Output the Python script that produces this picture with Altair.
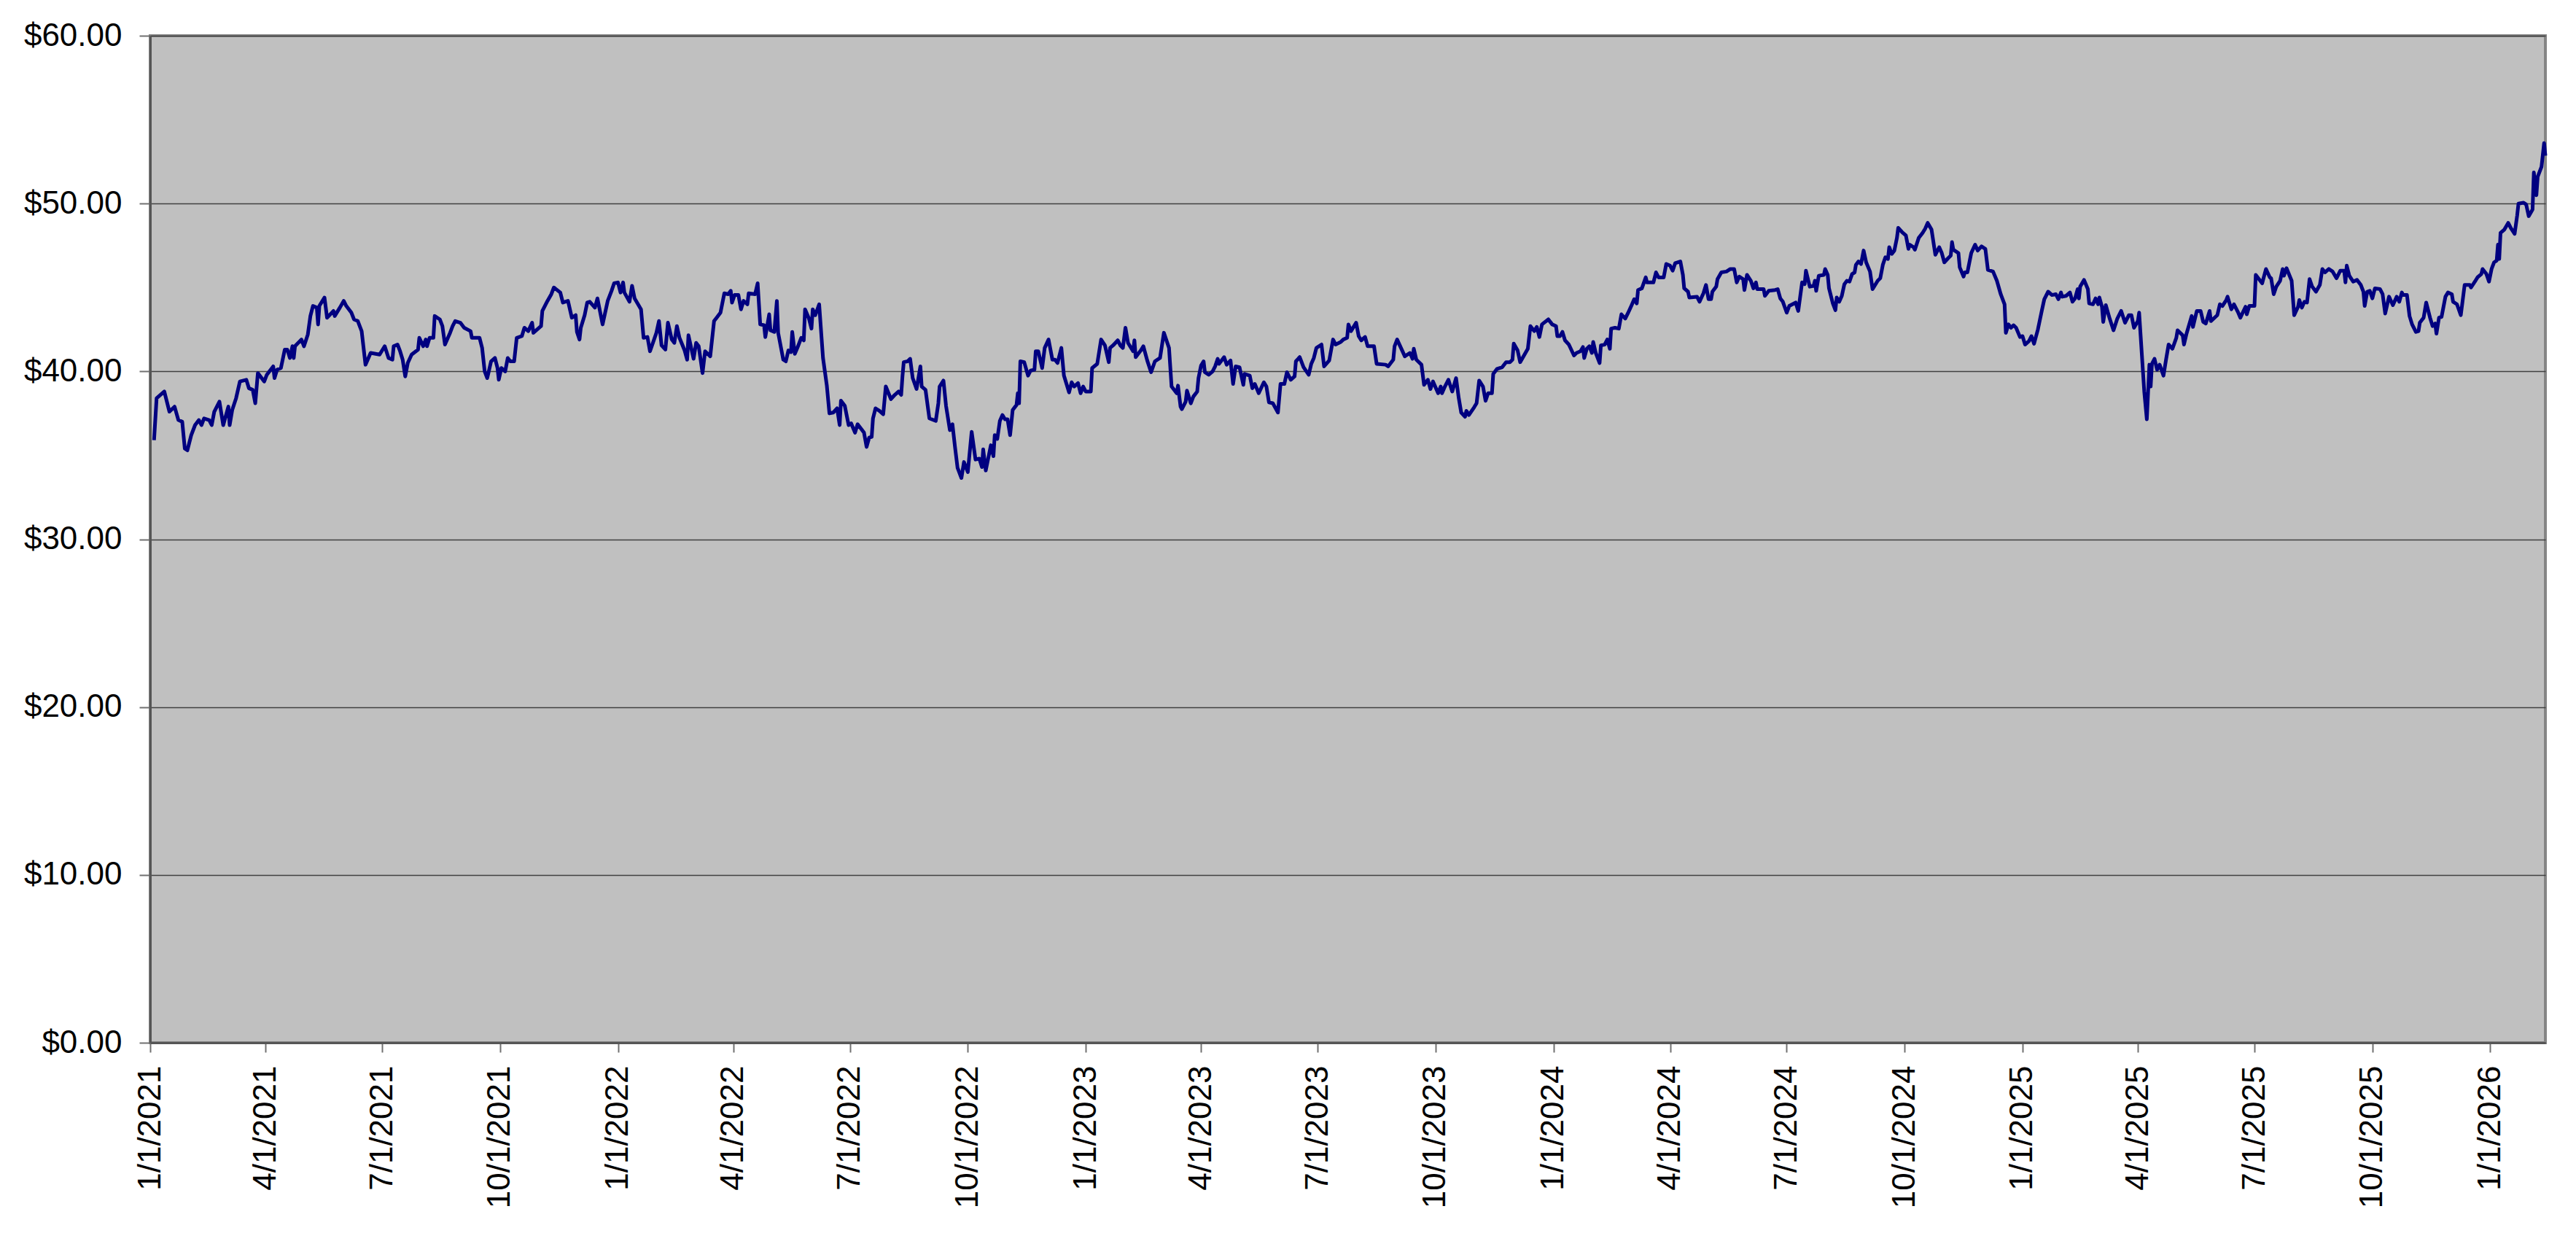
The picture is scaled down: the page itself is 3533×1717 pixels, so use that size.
import altair as alt
import pandas as pd

# ---- data: day offset from 2021-01-01 and closing price ----
days_2021 = [3,5,11,15,19,22,25,27,29,32,35,38,40,42,46,48,50,54,57,61,62,64,67,70,75,77,80,82,84,89,
             91,96,97,99,102,105,107,109,111,112,113,118,120,123,125,127,130,131,132,136,138,143,144,148,151,153,157,159,162,165,
             168,172,179,183,186,189,190,193,195,197,199,201,204,209,210,213,215,216,218,221,222,226,228,230,234,236,238,242,245,250,
             251,257,259,261,263,266,269,271,272,274,277,279,281,284,286,290,292,295,298,299,305,306,310,313,315]
prices_2021 = [35.9,38.4,38.8,37.6,37.9,37.1,37.0,35.4,35.3,36.2,36.8,37.1,36.8,37.2,37.1,36.8,37.6,38.2,36.8,37.9,
               36.8,37.7,38.4,39.4,39.5,39.0,38.9,38.1,39.9,39.4,39.8,40.3,39.6,40.1,40.2,41.3,41.3,40.8,41.5,40.8,
               41.5,41.9,41.5,42.2,43.3,43.9,43.8,42.8,43.9,44.4,43.2,43.6,43.3,43.8,44.2,43.9,43.5,43.1,43.0,42.4,
               40.4,41.1,41.0,41.5,40.8,40.7,41.5,41.6,41.2,40.7,39.7,40.5,41.0,41.3,42.0,41.5,41.9,41.5,42.0,42.0,
               43.3,43.1,42.7,41.6,42.3,42.7,43.0,42.9,42.6,42.4,42.0,42.0,41.4,40.0,39.6,40.6,40.8,40.2,39.5,40.2,
               40.0,40.8,40.6,40.6,42.0,42.1,42.6,42.4,42.9,42.3,42.7,43.6,44.2,44.6,45.0]

days_2022a = [320,322,326,329,332,333,335,336,339,341,343,347,349,353,357,360,362,365,367,369,
              370,374,376,378,383,385,388,390,395,397,399,402,404,407,409,411,413,417,419,420,
              424,426,428,431,433,437,440,442,445,448,451,453,454,456,459,461,463,466,467,472,
              474,476,479,480,483,484,487,489,490,494,496,498,500,501,503,505,508,510,511,514,
              516,517,519,522,525,528,530,533,536,538,539,542,545,547,550,552,557,559,561,563,
              564,566,569,572,574,578,581,584,586,587,588,591,593,595,598,601,602,605,608,613,
              615,616,619,621]
prices_2022a = [44.7,44.1,44.2,43.2,43.35,42.35,41.9,42.6,43.35,44.1,44.15,43.8,44.35,42.8,44.2,44.8,45.25,45.3,44.7,45.3,
                44.7,44.15,45.1,44.35,43.7,42.0,42.05,41.2,42.3,43.0,41.55,41.3,42.9,41.9,41.7,42.7,42.0,41.25,40.7,42.15,
                40.75,41.7,41.5,39.9,41.2,40.9,43.0,43.2,43.5,44.65,44.6,44.8,44.1,44.55,44.55,43.7,44.2,44.0,44.65,44.6,
                45.25,42.8,42.75,42.05,43.4,42.45,42.35,44.2,42.3,40.7,40.6,41.25,41.15,42.35,41.05,41.4,42.0,41.85,43.7,43.15,
                42.55,43.7,43.35,44.0,40.8,39.15,37.5,37.55,37.8,36.8,38.25,37.95,36.8,36.9,36.35,36.85,36.35,35.5,36.05,36.1,
                37.2,37.8,37.65,37.45,39.1,38.35,38.6,38.8,38.6,39.7,40.55,40.6,40.75,39.6,38.95,40.3,39.1,38.9,37.2,37.05,
                38.1,39.1,39.45,37.95]

days_2022b = [624,626,628,630,633,635,638,641,644,647,649,650,652,656,658,659,661,663,665,667,
              669,671,673,676,677,678,679,682,685,687,690,691,693,696,698,701,704,706,708,711,
              713,717,719,721,724,726,728,730,734,735,739,742,745,748,749,752,755,757,759,761,
              763,767,768,769,773,775,778,781,784,788,791,795,797,801,802,804,805,808,809,812,
              814,817,818,820,822,823,826,829,831,833,834,838,840,843,845,847,850,853,854,858,
              860,862,865,869,871,873,876,880,882,885,887,890,893,894,897,900,904,906,908,910,
              914,916,920,923,925,929,931,934,935,937]
prices_2022b = [36.5,36.85,35.5,34.25,33.65,34.6,34.0,36.4,34.75,34.8,34.3,35.35,34.1,35.6,34.95,36.2,35.98,37.05,37.4,37.15,
                37.15,36.2,37.7,38.0,38.7,38.1,40.6,40.55,39.75,40.05,40.1,41.2,41.2,40.2,41.4,41.9,40.7,40.7,40.5,41.4,
                39.75,38.75,39.35,39.1,39.3,38.7,39.1,38.8,38.8,40.2,40.45,41.9,41.55,40.55,41.4,41.6,41.85,41.55,41.4,42.6,
                41.7,41.2,41.85,40.85,41.25,41.5,40.65,39.95,40.6,40.8,42.3,41.4,39.1,38.7,39.15,37.9,37.75,38.2,38.85,38.1,
                38.5,38.8,39.6,40.35,40.6,39.95,39.8,40.0,40.3,40.75,40.45,40.85,40.4,40.65,39.25,40.3,40.25,39.2,39.85,39.75,
                39.0,39.25,38.7,39.35,39.1,38.15,38.1,37.55,39.25,39.25,39.95,39.5,39.7,40.6,40.85,40.25,39.8,40.45,40.8,41.4,
                41.6,40.3,40.65,41.9,41.6,41.75,41.9,42.0,42.8,42.4]

days_2023 = [941,943,945,948,950,955,957,964,966,970,971,973,976,979,983,985,986,988,992,994,
             997,999,1001,1005,1007,1008,1010,1013,1016,1019,1021,1023,1026,1027,1029,1033,1035,1037,1040,1042,
             1044,1047,1048,1051,1055,1058,1061,1063,1064,1067,1069,1072,1075,1077,1080,1082,1084,1086,1091,1094,
             1097,1098,1100,1102,1104,1107,1111,1113,1116,1118,1119,1121,1123,1125,1126,1128,1131,1132,1135,1137,
             1139,1140,1143,1146,1148,1151,1153,1156,1158,1160,1161,1164,1167,1168,1173,1175,1177,1181,1183,1186,
             1188,1190,1194,1196,1197,1200,1201,1207,1209,1212,1214,1216,1218,1219,1222,1223,1226,1230,1233,1236,
             1238,1240,1243,1244,1246,1249,1251,1253]
prices_2023 = [42.9,42.1,41.85,42.05,41.5,41.5,40.45,40.4,40.3,40.7,41.5,41.9,41.4,40.9,41.1,40.75,41.35,40.7,40.4,39.2,
               39.5,38.95,39.4,38.7,39.1,38.7,39.05,39.5,38.8,39.6,38.45,37.55,37.3,37.65,37.4,37.85,38.1,39.45,39.1,38.25,
               38.7,38.7,39.85,40.15,40.25,40.55,40.55,40.7,41.65,41.25,40.55,40.95,41.35,42.7,42.4,42.65,42.05,42.8,43.1,42.8,
               42.7,42.1,42.1,42.35,41.85,41.6,40.95,41.1,41.2,41.45,40.8,41.35,41.5,41.1,41.75,41.1,40.5,41.55,41.6,41.9,
               41.35,42.55,42.6,42.55,43.4,43.15,43.45,43.95,44.3,44.05,44.85,44.95,45.6,45.3,45.3,45.9,45.6,45.6,46.4,46.3,
               46.0,46.45,46.55,45.75,44.95,44.75,44.4,44.45,44.15,44.65,45.15,44.3,44.3,44.75,45.05,45.5,45.9,45.95,46.1,46.1,
               45.3,45.65,45.5,44.85,45.75,45.4,44.95,45.3]

days_2024 = [1254,1259,1260,1263,1268,1270,1272,1274,1277,1279,1284,1286,1289,1291,1292,1295,1298,1299,1300,1302,
             1306,1307,1309,1310,1313,1315,1316,1318,1320,1322,1324,1326,1328,1330,1331,1333,1335,1337,1339,1342,
             1344,1348,1350,1352,1354,1356,1357,1359,1361,1363,1364,1367,1370,1372,1373,1376,1377,1380,1383,1385,
             1387,1390,1393,1394,1396,1398,1400,1403,1405,1406,1407,1411,1412,1415,1416,1418,1421,1424,1426,1429,
             1432,1434,1438,1441,1444,1447,1448,1450,1452,1454,1456,1459,1461,1463,1466,1468,1470,1473,1476,1478,
             1481,1484,1487,1489,1491,1492,1495,1498,1500,1502,1504,1505,1506,1509,1512,1513,1516,1518,1520,1521,
             1523,1524,1526,1529,1532,1535,1538,1541,1544,1546,1548,1551,1552]
prices_2024 = [44.9,44.9,44.5,44.8,44.85,44.9,44.35,44.15,43.5,43.9,44.1,43.6,45.3,45.2,46.0,45.05,45.1,45.4,44.8,45.7,
               45.75,46.1,45.75,44.95,44.05,43.65,44.4,44.15,44.5,45.2,45.4,45.35,45.8,45.9,46.35,46.55,46.4,47.2,46.5,45.95,
               44.9,45.4,45.55,46.35,46.8,46.7,47.4,47.0,47.2,47.95,48.55,48.3,48.1,47.3,47.55,47.4,47.25,47.95,48.25,48.5,
               48.85,48.45,46.95,47.1,47.4,47.05,46.5,46.75,46.9,47.7,47.25,47.05,46.2,45.65,45.9,45.9,47.05,47.55,47.2,47.45,
               47.3,46.05,45.95,45.4,44.6,44.0,42.3,42.8,42.6,42.75,42.6,42.05,42.1,41.6,41.8,42.1,41.65,42.5,43.6,44.3,
               44.75,44.55,44.6,44.3,44.7,44.45,44.5,44.7,44.15,44.35,44.9,44.35,45.05,45.45,44.9,44.05,44.0,44.35,44.0,44.4,
               43.85,42.95,43.95,43.15,42.45,43.15,43.6,42.9,43.35,43.35,42.6,43.0,43.5]

days_2025 = [1556,1558,1560,1561,1562,1564,1566,1568,1571,1573,1575,1578,1581,1582,1586,1587,1589,1593,1594,1597,
             1600,1602,1604,1607,1608,1613,1615,1617,1620,1621,1624,1626,1629,1631,1635,1636,1638,1642,1643,1648,
             1651,1654,1655,1657,1659,1662,1664,1665,1667,1671,1673,1676,1677,1679,1681,1683,1685,1687,1690,1693,
             1695,1697,1700,1703,1706,1709,1712,1713,1714,1716,1719,1722,1725,1727,1728,1730,1732,1734,1736,1740,
             1742,1744,1747,1750,1753,1755,1757,1758,1761,1763,1765,1768,1770,1771,1774,1776,1779,1781,1783,1784,
             1786,1788,1791,1793,1796,1797,1800,1803,1806,1810,1811,1814,1816,1819,1820,1823,1825,1827,1829,1831,
             1832,1833,1834,1837,1840,1842,1845,1847,1848,1852,1854,1856,1859,1860,1862,1863,1866,1868,1869]
prices_2025 = [38.8,37.15,40.4,39.1,40.45,40.75,40.1,40.4,39.75,40.7,41.6,41.35,42.0,42.45,42.15,41.6,42.25,43.3,42.65,43.6,
               43.6,42.95,42.85,43.6,43.0,43.35,44.0,43.9,44.25,44.45,43.7,44.0,43.55,43.2,43.85,43.4,43.9,43.9,45.75,45.25,
               46.1,45.6,45.55,44.6,45.05,45.4,46.1,45.7,46.15,45.4,43.35,43.85,44.25,43.8,44.15,44.1,45.5,45.05,44.75,45.15,
               46.1,45.9,46.1,45.95,45.55,46.0,46.0,45.3,46.3,45.7,45.35,45.45,45.15,44.75,43.9,44.75,44.8,44.35,44.95,44.9,
               44.6,43.45,44.45,43.95,44.45,44.15,44.7,44.55,44.55,43.3,42.8,42.35,42.4,42.9,43.2,44.1,43.2,42.7,42.85,42.25,
               43.2,43.25,44.45,44.7,44.6,44.15,44.0,43.35,45.15,45.15,45.0,45.35,45.6,45.8,46.1,45.8,45.35,46.1,46.5,46.6,
               47.55,46.7,48.25,48.45,48.85,48.55,48.2,49.3,50.0,50.05,49.95,49.25,49.65,51.85,50.5,51.6,52.2,53.6,52.85]

y_ticks = [0, 10, 20, 30, 40, 50, 60]
x_tick_quarters = [(y, m) for y in range(2021, 2027) for m in (1, 4, 7, 10) if (y, m) <= (2026, 1)]

segments = [(days_2021, prices_2021), (days_2022a, prices_2022a), (days_2022b, prices_2022b),
            (days_2023, prices_2023), (days_2024, prices_2024), (days_2025, prices_2025)]
all_days, all_prices = [], []
for d, p in segments:
    assert len(d) == len(p), (len(d), len(p))
    all_days += d
    all_prices += p

base = pd.Timestamp("2021-01-01")
df = pd.DataFrame({
    "date": [(base + pd.Timedelta(days=int(d))).strftime("%Y-%m-%dT00:00:00") for d in all_days],
    "price": all_prices,
    "idx": list(range(len(all_days))),
})

x_values = [alt.DateTime(year=y, month=m, date=1) for (y, m) in x_tick_quarters]

chart = alt.Chart(df).mark_line(color="#000080", strokeWidth=5, strokeJoin="round").encode(
    x=alt.X("date:T",
            scale=alt.Scale(domain=[alt.DateTime(year=2021, month=1, date=1),
                                    alt.DateTime(year=2026, month=2, date=13)]),
            axis=alt.Axis(values=x_values, format="%-m/%-d/%Y", labelAngle=270,
                          labelAlign="right", labelBaseline="middle",
                          grid=False, tickSize=13, labelPadding=18, title="",
                          labelOverlap=False, labelFlush=False, labelLimit=1000)),
    y=alt.Y("price:Q",
            scale=alt.Scale(domain=[0, 60], nice=False),
            axis=alt.Axis(values=y_ticks, format="$.2f", grid=True,
                          gridColor="#404040", gridWidth=1.5,
                          tickSize=15, labelPadding=24, title="",
                          labelOverlap=False, labelFlush=False, labelLimit=1000)),
    order="idx:Q",
).properties(
    width=3285, height=1381,
    autosize=alt.AutoSizeParams(type="none"),
    padding={"left": 198, "top": 41, "right": 30, "bottom": 260},
    background="white",
).configure_view(
    fill="#C0C0C0", stroke="#858585", strokeWidth=4,
).configure_axis(
    labelFont="Liberation Sans", labelFontSize=44, labelColor="#000000",
    domainColor="#555555", domainWidth=3, tickColor="#707070", tickWidth=2,
)

chart.save("out.html", embed_options={"renderer": "svg", "actions": False})
